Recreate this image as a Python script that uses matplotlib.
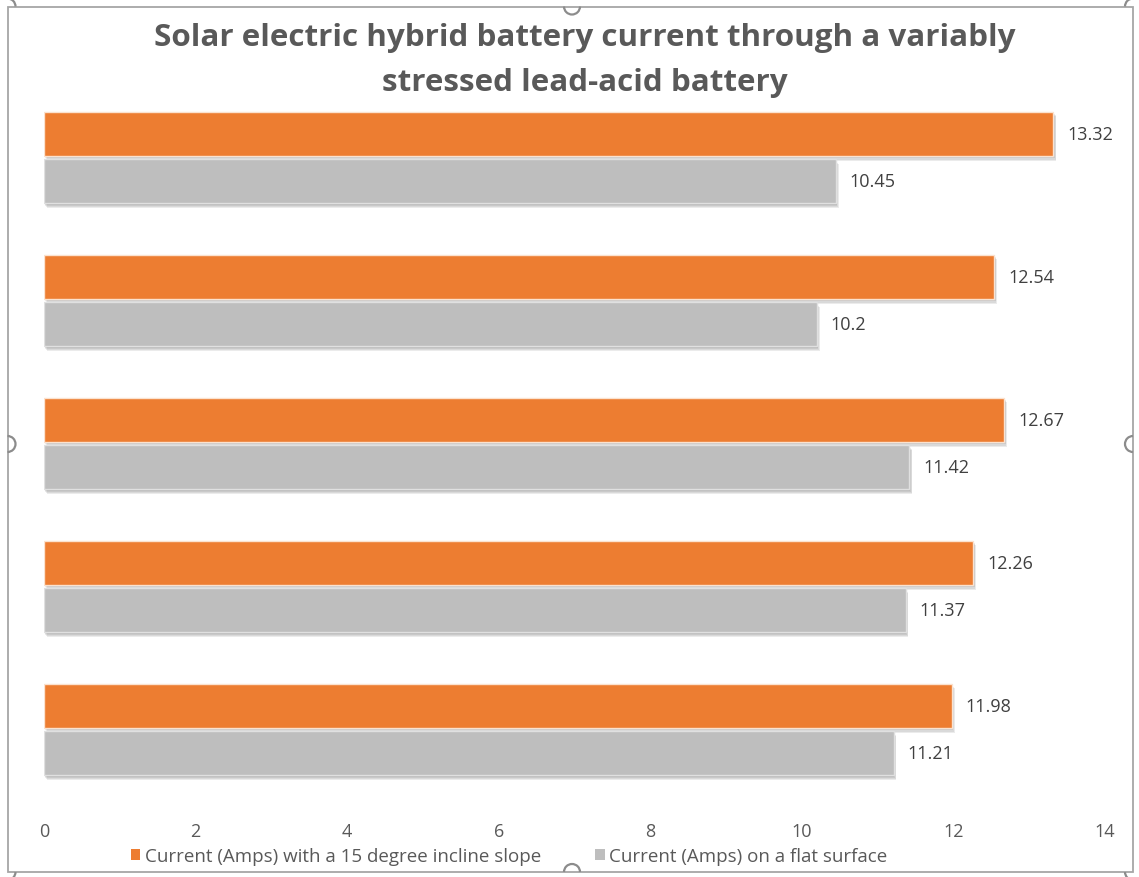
import matplotlib
matplotlib.use("Agg")
import matplotlib.pyplot as plt
import matplotlib.patheffects as pe
from matplotlib.patches import Arc, Rectangle, Patch
import numpy as np

# ---- data ----
groups = ["1", "2", "3", "4", "5"]
incline = [13.32, 12.54, 12.67, 12.26, 11.98]
flat = [10.45, 10.2, 11.42, 11.37, 11.21]
label_incline = "Current (Amps) with a 15 degree incline slope"
label_flat = "Current (Amps) on a flat surface"
title_lines = ["Solar electric hybrid battery current through a variably",
               "stressed lead-acid battery"]
xticks = [0, 2, 4, 6, 8, 10, 12, 14]

W, H = 1139, 878
plt.rcParams['font.family'] = ['Open Sans', 'DejaVu Sans']
fig = plt.figure(figsize=(W / 100, H / 100), dpi=100)

ax = fig.add_axes([44 / W, 1 - 802 / H, (1105 - 44) / W, (802 - 87) / H])

ORANGE = "#ED7D31"
GRAY = "#BEBEBE"
TXT = "#595959"
LBL = "#404040"
h = 0.31
off = 0.166
y = np.arange(len(groups))

shadow = [pe.SimplePatchShadow(offset=(o[0], o[1]), shadow_rgbFace="#505050", alpha=0.11)
          for o in [(0.5, -1), (1, -1.8), (1.5, -2.6), (2, -3.4)]] + [pe.Normal()]
b1 = ax.barh(y - off, incline, height=h, color=ORANGE, edgecolor="#FBE2CF", linewidth=1,
             path_effects=shadow)
b2 = ax.barh(y + off, flat, height=h, color=GRAY, edgecolor="#E0E0E0", linewidth=1,
             path_effects=shadow)

for bars, vals in ((b1, incline), (b2, flat)):
    for rect, v in zip(bars, vals):
        ax.annotate(f"{v:g}", xy=(v, rect.get_y() + rect.get_height() / 2),
                    xytext=(10, 0), textcoords="offset points", ha="left", va="center",
                    fontsize=13, color=LBL)

ax.set_xlim(0, 14)
ax.set_ylim(len(groups) - 0.5, -0.5)
ax.set_xticks(xticks)
ax.set_xticklabels([str(t) for t in xticks])
ax.set_yticks([])
ax.tick_params(axis="x", length=0, pad=15, labelsize=13, labelcolor=TXT)
for s in ax.spines.values():
    s.set_visible(False)

# title, sized so that the first line spans the same width as the reference
renderer = fig.canvas.get_renderer()
t1 = fig.text(585 / W, 1 - 38 / H, title_lines[0], ha="center", va="center",
              fontsize=20, fontweight="bold", color=TXT)
w = t1.get_window_extent(renderer).width
fs = 20 * 860 / w
t1.set_fontsize(fs)
fig.text(585 / W, 1 - 83 / H, title_lines[1], ha="center", va="center",
         fontsize=fs, fontweight="bold", color=TXT)

handles = [Patch(facecolor=ORANGE, edgecolor="none"), Patch(facecolor=GRAY, edgecolor="none")]
fig.legend(handles=handles, labels=[label_incline, label_flat], loc="center",
           bbox_to_anchor=(509 / W, 1 - 857 / H), ncol=2, frameon=False,
           fontsize=13.5, labelcolor=TXT, handlelength=0.5, handleheight=0.5,
           handletextpad=0.25, columnspacing=2.9, borderpad=0)

# frame with selection handles (drawn in pixel space)
ov = fig.add_axes([0, 0, 1, 1], zorder=10)
ov.set_xlim(0, W)
ov.set_ylim(H, 0)
ov.axis("off")
ov.patch.set_alpha(0)
ec = "#8C8C8C"
x0, y0, x1, y1 = 7.5, 7.5, 1133, 873
ov.add_patch(Rectangle((x0, y0), x1 - x0, y1 - y0, fill=False, edgecolor="#A6A6A6", linewidth=1.3))
r = 8
for cx, cy, a1, a2 in [(572, y0, 0, 180), (572, y1, 180, 360), (x0, 445, 270, 450), (x1, 445, 90, 270)]:
    ov.add_patch(Arc((cx, cy), 2 * r, 2 * r, theta1=a1, theta2=a2, color=ec, linewidth=1.6))
for cx, cy, a1, a2 in [(x0, y0, 270, 360), (x1, y0, 180, 270), (x0, y1, 0, 90), (x1, y1, 90, 180)]:
    ov.add_patch(Arc((cx, cy), 2 * r, 2 * r, theta1=a1, theta2=a2, color=ec, linewidth=1.6))

fig.savefig("out.png", dpi=100, facecolor="white")
